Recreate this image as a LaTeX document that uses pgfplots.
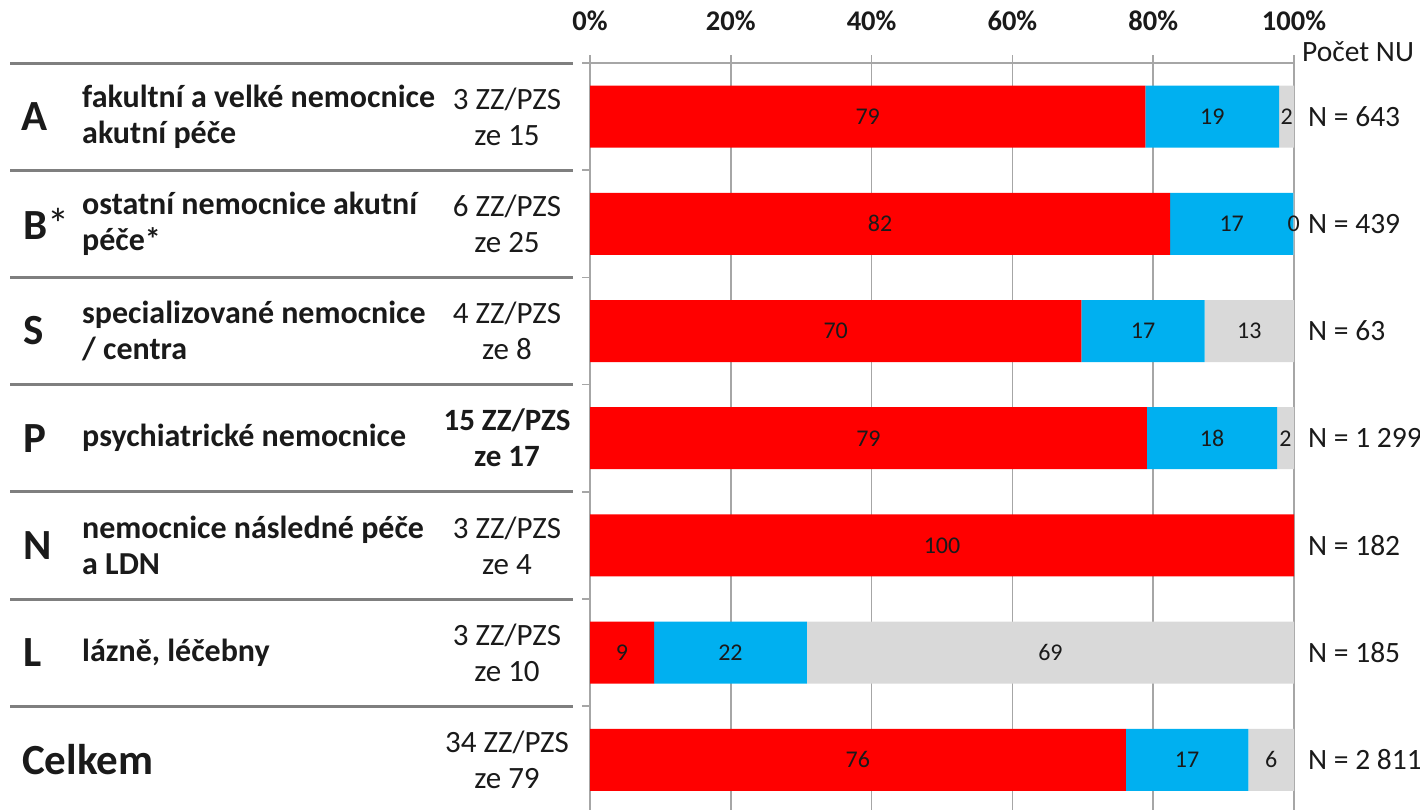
\documentclass[border=0pt]{standalone}
\usepackage{pgfplots}
\pgfplotsset{compat=1.18}
\usepackage{fontspec}
\setmainfont{Carlito}
\definecolor{cred}{HTML}{FF0000}
\definecolor{cblue}{HTML}{00B0F0}
\definecolor{cgray}{HTML}{D9D9D9}
\definecolor{gridc}{HTML}{A6A6A6}
\definecolor{sepc}{HTML}{7F7F7F}
\definecolor{txt}{HTML}{1A1A1A}
\newcommand{\biglet}{\fontsize{43}{43}\selectfont\bfseries}
\newcommand{\desc}{\fontsize{32}{36}\selectfont\bfseries}
\newcommand{\cnt}{\fontsize{31}{36}\selectfont}
\newcommand{\nlab}{\fontsize{29.5}{30}\selectfont}
\begin{document}
\begin{tikzpicture}[x=1pt,y=1pt]
\path[use as bounding box] (0,0) rectangle (1420,-809);
\begin{axis}[
  at={(590pt,-63pt)}, anchor=north west,
  scale only axis, width=704pt, height=750.4pt,
  xbar stacked, bar width=62pt,
  xmin=0, xmax=100, ymin=-0.5, ymax=6.5, y dir=reverse,
  axis x line*=top, axis y line*=left,
  axis line style={gridc, line width=1.6pt},
  xtick={0,20,40,60,80,100},
  xticklabels={0\%,20\%,40\%,60\%,80\%,100\%},
  xticklabel style={font=\fontsize{28.5}{30}\selectfont\bfseries, text=txt, yshift=21pt},
  xmajorgrids, grid style={gridc, line width=1.6pt},
  ytick={-0.5,0.5,...,6.5}, yticklabels={},
  tick align=outside, major tick length=8pt,
  tick style={gridc, line width=1.6pt},
  clip=false,
  point meta=explicit symbolic, nodes near coords,
  nodes near coords style={inner sep=0pt, font=\fontsize{24}{26}\selectfont, text=txt},
]
\addplot[fill=cred, draw=none] coordinates {(78.9,0) [79] (82.4,1) [82] (69.8,2) [70] (79.1,3) [79] (100,4) [100] (9.1,5) [9] (76.1,6) [76]};
\addplot[fill=cblue, draw=none] coordinates {(19.0,0) [19] (17.5,1) [17] (17.5,2) [17] (18.5,3) [18] (0,4) [{}] (21.7,5) [22] (17.4,6) [17]};
\addplot[fill=cgray, draw=none] coordinates {(2.1,0) [2] (0.1,1) [0] (12.7,2) [13] (2.4,3) [2] (0,4) [{}] (69.2,5) [69] (6.5,6) [6]};
\end{axis}
% separators
\foreach \k in {0,...,6} {
  \draw[sepc, line width=3pt] (10,{-63-107.2*\k}) -- (573,{-63-107.2*\k});
}
% header
\node[anchor=west, inner sep=0pt, text=txt, font=\nlab] at (1302,-52) {Počet NU};
% N labels
\foreach \y/\t in {116.6/643, 223.8/439, 331.0/63, 438.2/1 299, 545.4/182, 652.6/185, 759.8/2 811} {
  \node[anchor=west, inner sep=0pt, text=txt, font=\nlab] at (1308,-\y) {N = \t};
}
% big letters
\node[anchor=west, inner sep=0pt, text=txt, font=\biglet] at (21,-116.6) {A};
\node[anchor=west, inner sep=0pt, text=txt] at (23,-223.8) {{\biglet B}{\fontsize{44}{44}\selectfont *}};
\node[anchor=west, inner sep=0pt, text=txt, font=\biglet] at (23,-331.0) {S};
\node[anchor=west, inner sep=0pt, text=txt, font=\biglet] at (23,-438.2) {P};
\node[anchor=west, inner sep=0pt, text=txt, font=\biglet] at (23,-545.4) {N};
\node[anchor=west, inner sep=0pt, text=txt, font=\biglet] at (23,-652.6) {L};
\node[anchor=west, inner sep=0pt, text=txt, font=\biglet] at (22,-759.8) {Celkem};
% descriptions
\node[anchor=west, inner sep=0pt, text=txt, font=\desc, align=left] at (82,-116.6) {fakultní a velké nemocnice\\akutní péče};
\node[anchor=west, inner sep=0pt, text=txt, font=\desc, align=left] at (82,-223.8) {ostatní nemocnice akutní\\péče*};
\node[anchor=west, inner sep=0pt, text=txt, font=\desc, align=left] at (82,-331.0) {specializované nemocnice\\/ centra};
\node[anchor=west, inner sep=0pt, text=txt, font=\desc, align=left] at (82,-438.2) {psychiatrické nemocnice};
\node[anchor=west, inner sep=0pt, text=txt, font=\desc, align=left] at (82,-545.4) {nemocnice následné péče\\a LDN};
\node[anchor=west, inner sep=0pt, text=txt, font=\desc, align=left] at (82,-652.6) {lázně, léčebny};
% counts
\node[inner sep=0pt, text=txt, font=\cnt, align=center] at (507,-116.6) {3 ZZ/PZS\\ze 15};
\node[inner sep=0pt, text=txt, font=\cnt, align=center] at (507,-223.8) {6 ZZ/PZS\\ze 25};
\node[inner sep=0pt, text=txt, font=\cnt, align=center] at (507,-331.0) {4 ZZ/PZS\\ze 8};
\node[inner sep=0pt, text=txt, font=\cnt\bfseries, align=center] at (507,-438.2) {15 ZZ/PZS\\ze 17};
\node[inner sep=0pt, text=txt, font=\cnt, align=center] at (507,-545.4) {3 ZZ/PZS\\ze 4};
\node[inner sep=0pt, text=txt, font=\cnt, align=center] at (507,-652.6) {3 ZZ/PZS\\ze 10};
\node[inner sep=0pt, text=txt, font=\cnt, align=center] at (507,-759.8) {34 ZZ/PZS\\ze 79};
\end{tikzpicture}
\end{document}
